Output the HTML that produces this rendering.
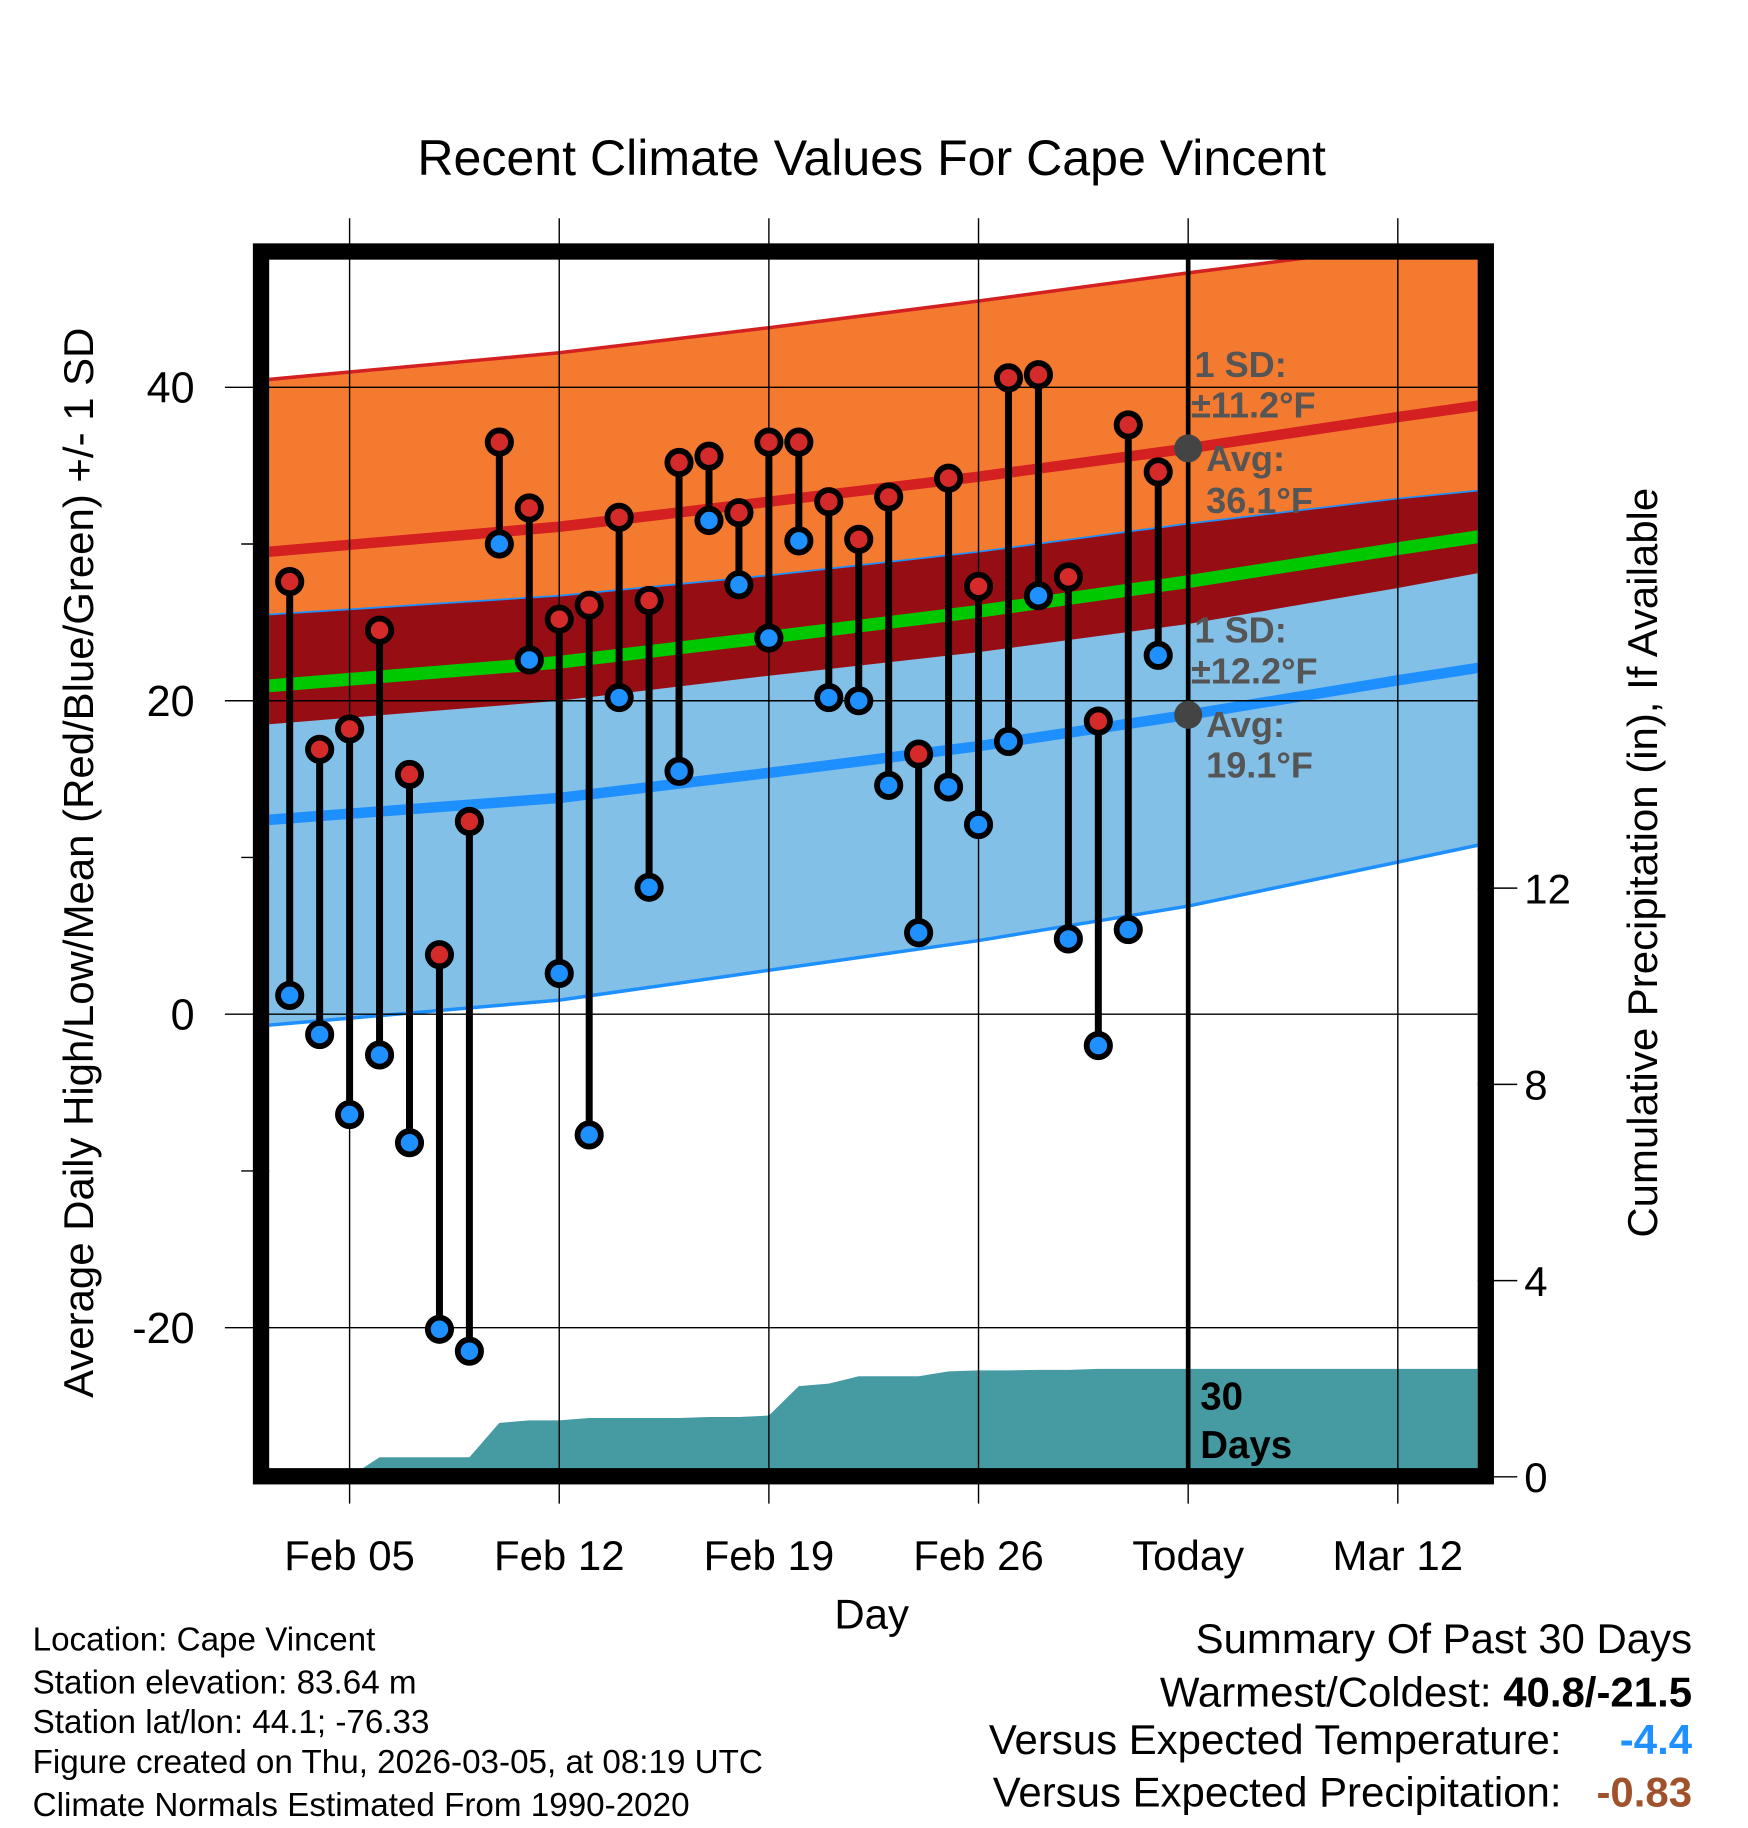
<!DOCTYPE html>
<html><head><meta charset="utf-8"><style>
html,body{margin:0;padding:0;background:#fff;}
svg{display:block;font-family:"Liberation Sans",Arial,sans-serif;}
</style></head><body>
<svg id="chart" width="1748" height="1828" viewBox="0 0 1500 1568" xmlns="http://www.w3.org/2000/svg">
<text x="748" y="150" font-size="43" text-anchor="middle">Recent Climate Values For Cape Vincent</text>
<g id="plot"></g>
<text x="748" y="1397" font-size="36" text-anchor="middle">Day</text>
<text transform="translate(80,740) rotate(-90)" font-size="36" text-anchor="middle">Average Daily High/Low/Mean (Red/Blue/Green) +/- 1 SD</text>
<text transform="translate(1422,740) rotate(-90)" font-size="36" text-anchor="middle">Cumulative Precipitation (in), If Available</text>
<g font-size="28.5">
<text x="28" y="1416">Location: Cape Vincent</text>
<text x="28" y="1453">Station elevation: 83.64 m</text>
<text x="28" y="1487">Station lat/lon: 44.1; -76.33</text>
<text x="28" y="1521">Figure created on Thu, 2026-03-05, at 08:19 UTC</text>
<text x="28" y="1558">Climate Normals Estimated From 1990-2020</text>
</g>
<g font-size="36" text-anchor="end">
<text x="1452" y="1418">Summary Of Past 30 Days</text>
<text x="1452" y="1464">Warmest/Coldest: <tspan font-weight="bold">40.8/-21.5</tspan></text>
<text x="1340" y="1505">Versus Expected Temperature:</text>
<text x="1452" y="1505" font-weight="bold" fill="#1e90ff">-4.4</text>
<text x="1340" y="1550">Versus Expected Precipitation:</text>
<text x="1452" y="1550" font-weight="bold" fill="#a0522d">-0.83</text>
</g>
</svg>
<script>
const days=["Feb 03","Feb 04","Feb 05","Feb 06","Feb 07","Feb 08","Feb 09","Feb 10","Feb 11","Feb 12","Feb 13","Feb 14","Feb 15","Feb 16","Feb 17","Feb 18","Feb 19","Feb 20","Feb 21","Feb 22","Feb 23","Feb 24","Feb 25","Feb 26","Feb 27","Feb 28","Mar 01","Mar 02","Mar 03","Mar 04"];
const highs=[27.6,16.9,18.2,24.5,15.3,3.8,12.3,36.5,32.3,25.2,26.1,31.7,26.4,35.2,35.6,32.0,36.5,36.5,32.7,30.3,33.0,16.6,34.2,27.3,40.6,40.8,27.9,18.7,37.6,34.6];
const lows=[1.2,-1.3,-6.4,-2.6,-8.2,-20.1,-21.5,30.0,22.6,2.6,-7.7,20.2,8.1,15.5,31.5,27.4,24.0,30.2,20.2,20.0,14.6,5.2,14.5,12.1,17.4,26.7,4.8,-2.0,5.4,22.9];
const precip=[0,0,0,0.4,0.4,0.4,0.4,1.1,1.15,1.15,1.2,1.2,1.2,1.2,1.22,1.22,1.25,1.85,1.9,2.05,2.05,2.05,2.15,2.17,2.17,2.18,2.18,2.2,2.2,2.2];
const normDays=[2.3,12,19,26,33,40,43.7];
const normHigh=[29.5,31.1,32.7,34.3,36.1,38.1,39.1];
const normLow=[12.4,13.8,15.4,17.1,19.1,21.3,22.4];
const sdHigh=[11.0,11.1,11.1,11.2,11.2,10.9,10.6];
const sdLow=[13.1,12.9,12.6,12.4,12.2,11.6,11.2];
const xTicks=["Feb 05","Feb 12","Feb 19","Feb 26","Today","Mar 12"];
const xTickDays=[5,12,19,26,33,40];
const yTicks=[40,20,0,-20];
const y2Ticks=[0,4,8,12];

const NS="http://www.w3.org/2000/svg";
const X0=231,X1=1268,Y0=222,Y1=1260;
const x=d=>300+(d-5)*25.7;
const y=v=>870-v*13.45;
const yp=p=>1267-p*42.1;
const g=document.getElementById('plot');
function el(t,a,p){const e=document.createElementNS(NS,t);for(const k in a)e.setAttribute(k,a[k]);(p||g).appendChild(e);return e;}
const defs=el('defs',{});const cp=el('clipPath',{id:'clip'},defs);el('rect',{x:X0,y:Y0,width:X1-X0,height:Y1-Y0},cp);
const cg=el('g',{'clip-path':'url(#clip)'});


function line(fn){return normDays.map((d,i)=>`${x(d).toFixed(1)},${y(fn(i)).toFixed(1)}`);}
function band(up,lo,fill,name){const a=line(up),b=line(lo).reverse();const p=el('polygon',{points:a.concat(b).join(' '),fill:fill},cg);}
band(i=>normHigh[i]+sdHigh[i],i=>normHigh[i]-sdHigh[i],'#f47a2f','high-sd-band');
band(i=>normLow[i]+sdLow[i],i=>normLow[i]-sdLow[i],'#82c0e8','low-sd-band');
band(i=>normLow[i]+sdLow[i],i=>normHigh[i]-sdHigh[i],'#960e14','overlap-band');
function pl(fn,col,w,name){const p=el('polyline',{points:line(fn).join(' '),fill:'none',stroke:col,'stroke-width':w},cg);}
pl(i=>normHigh[i]+sdHigh[i],'#d42020',3,'high-upper-sd-line');
pl(i=>normLow[i]+sdLow[i],'#1e8fff',1.5,'low-upper-sd-line');
pl(i=>normLow[i]-sdLow[i],'#1e8fff',3,'low-lower-sd-line');
pl(i=>(normHigh[i]+normLow[i])/2,'#00c800',11,'normal-mean-line');
pl(i=>normHigh[i],'#d42020',9,'normal-high-line');
pl(i=>normLow[i],'#1e8fff',9,'normal-low-line');
let pts=[`${x(3)},${yp(0)}`];precip.forEach((p,i)=>pts.push(`${x(3+i)},${yp(p)}`));
pts.push(`${X1},${yp(precip[precip.length-1])}`,`${X1},${yp(0)}`);
const pa=el('polygon',{points:pts.join(' '),fill:'#469ba3'},cg);


xTickDays.forEach(d=>{const l=el('line',{x1:x(d),x2:x(d),y1:187,y2:Y1+30,stroke:'#000','stroke-width':1.2});});
yTicks.forEach(v=>{const l=el('line',{x1:193,x2:X1,y1:y(v),y2:y(v),stroke:'#000','stroke-width':1.2});});
[30,10,-10].forEach(v=>{el('line',{x1:207,x2:X0,y1:y(v),y2:y(v),stroke:'#000','stroke-width':1.2});});
y2Ticks.forEach(v=>{const l=el('line',{x1:X1,x2:1302,y1:yp(v),y2:yp(v),stroke:'#000','stroke-width':1.2});
const t=el('text',{x:1308,y:yp(v)+13,'font-size':36});t.textContent=v;});
yTicks.forEach(v=>{const t=el('text',{x:167,y:y(v)+13,'font-size':37,'text-anchor':'end'});t.textContent=v;});
xTicks.forEach((s,i)=>{const t=el('text',{x:x(xTickDays[i]),y:1347,'font-size':36,'text-anchor':'middle'});t.textContent=s;});
const tl=el('line',{x1:x(33),x2:x(33),y1:Y0,y2:Y1,stroke:'#000','stroke-width':4});


days.forEach((d,i)=>{const xx=x(3+i);
const b=el('line',{x1:xx,x2:xx,y1:y(highs[i]),y2:y(lows[i]),stroke:'#000','stroke-width':6});


const h=el('circle',{cx:xx,cy:y(highs[i]),r:10,fill:'#d42a2a',stroke:'#000','stroke-width':5});


const lo=el('circle',{cx:xx,cy:y(lows[i]),r:10,fill:'#1e90ff',stroke:'#000','stroke-width':5});

});
[normHigh[4],normLow[4]].forEach(v=>{const c=el('circle',{cx:x(33),cy:y(v),r:12,fill:'#444'});});
const ann=[[1025,323,'1 SD:'],[1022,358,'±11.2°F'],[1035,404,'Avg:'],[1035,440,' 36.1°F'],[1025,551,'1 SD:'],[1022,586,'±12.2°F'],[1035,632,'Avg:'],[1035,667,' 19.1°F']];
ann.forEach(a=>{const t=el('text',{x:a[0],y:a[1],'font-size':31,'font-weight':'bold',fill:'#555'});t.textContent=a[2];});
['30','Days'].forEach((s,i)=>{const t=el('text',{x:1030,y:1209+i*42,'font-size':33,'font-weight':'bold'});t.textContent=s;});
const fr=el('rect',{x:224,y:215.5,width:1051,height:1051,fill:'none',stroke:'#000','stroke-width':14});


</script>
</body></html>
